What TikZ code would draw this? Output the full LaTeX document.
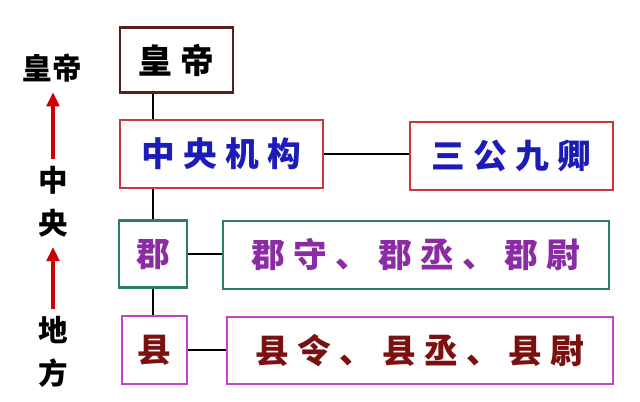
\documentclass[tikz,border=0pt]{standalone}
\usepackage{fontspec}
\usepackage{xcolor}
\usetikzlibrary{arrows.meta,calc}
\newfontfamily\cjk{Noto Sans CJK SC}
\newfontfamily\cjkwide[LetterSpace=25]{Noto Sans CJK SC}
\definecolor{brownline}{HTML}{5A1E1E}
\definecolor{redline}{HTML}{C8383C}
\definecolor{tealline}{HTML}{2E7C6C}
\definecolor{pinkline}{HTML}{C444C8}
\definecolor{bluetext}{HTML}{1C1CB8}
\definecolor{purpletext}{HTML}{8C2CA4}
\definecolor{redtext}{HTML}{7A1010}

\begin{document}
\begin{tikzpicture}[
            x=0.025cm, y=-0.025cm,
            office/.style={rectangle, draw, line width=2pt, inner sep=0pt, fill=white,
                font=\cjkwide\bfseries\fontsize{24}{24}\selectfont},
            side/.style={inner sep=1pt, font=\cjk\bfseries\fontsize{21}{21}\selectfont},
            link/.style={line width=1.6pt, black},
            uparrow/.style={-{Triangle[width=9pt,length=10pt]}, line width=2.4pt, red!80!black,
                shorten <=4pt, shorten >=6pt}
        ]
            \useasboundingbox (0,0) rectangle (640,402);

            % Boxes
            \node[office, draw=brownline, minimum width=113*0.025cm, minimum height=65*0.025cm] (huangdi) at (176.5, 60) {皇帝};
            \node[office, draw=redline, text=bluetext, minimum width=203*0.025cm, minimum height=68*0.025cm] (zhongyang) at (221.5, 154) {中央机构};
            \node[office, draw=redline, text=bluetext, minimum width=203*0.025cm, minimum height=68*0.025cm] (sangong) at (511.5, 156) {三公九卿};
            \node[office, draw=tealline, text=purpletext, minimum width=68*0.025cm, minimum height=67*0.025cm] (jun) at (153, 254) {\cjk 郡};
            \node[office, draw=tealline, text=purpletext, minimum width=386*0.025cm, minimum height=68*0.025cm] (junguan) at (416, 255) {郡守、郡丞、郡尉};
            \node[office, draw=pinkline, text=redtext, minimum width=65*0.025cm, minimum height=68*0.025cm] (xian) at (154.5, 350) {\cjk 县};
            \node[office, draw=pinkline, text=redtext, minimum width=386*0.025cm, minimum height=67*0.025cm] (xianguan) at (420, 350.5) {县令、县丞、县尉};

            % Links
            \draw[link] (huangdi.south -| jun.north) -- (zhongyang.north -| jun.north);
            \draw[link] (zhongyang.south -| jun.north) -- (jun.north);
            \draw[link] (jun.south) -- (xian.north -| jun.south);
            \draw[link] (zhongyang.east) -- (sangong.west |- zhongyang.east);
            \draw[link] (jun.east) -- (junguan.west |- jun.east);
            \draw[link] (xian.east) -- (xianguan.west |- xian.east);

            % Side labels
            \node[side] (top) at (52, 68) {皇帝};
            \node[side] (zhong) at (53, 180) {中};
            \node[side] (yang) at (53, 223) {央};
            \node[side] (di) at (53, 330) {地};
            \node[side] (fang) at (53, 373) {方};
            \draw[uparrow] (zhong.north) -- (zhong.north |- top.south);
            \draw[uparrow] (di.north) -- (di.north |- yang.south);
        \end{tikzpicture}
\end{document}
